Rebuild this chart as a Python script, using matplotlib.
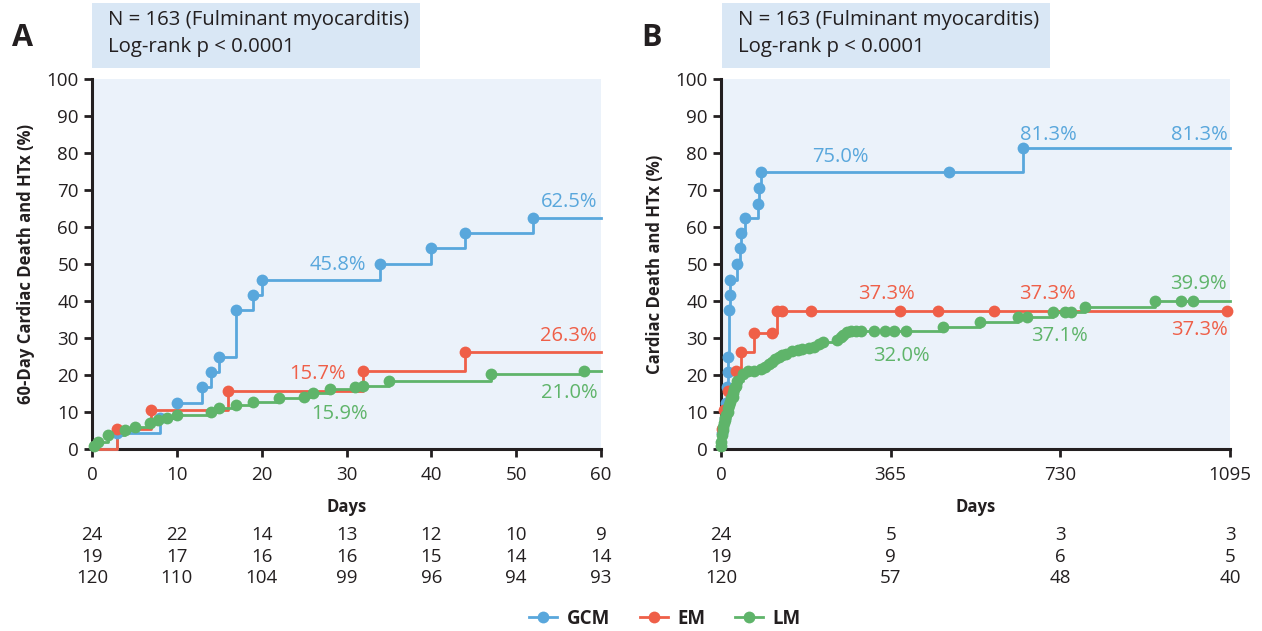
import matplotlib
matplotlib.use("Agg")
import matplotlib.pyplot as plt
from matplotlib.transforms import blended_transform_factory
from matplotlib.lines import Line2D

plt.rcParams['font.family'] = ['Open Sans', 'DejaVu Sans']

# ---------------- data ----------------
groups = ["GCM", "EM", "LM"]
colors = {"GCM": "#59a7dc", "EM": "#ef5f48", "LM": "#5fb46a"}

# Panel A (60 days): event / marker times (days) and cumulative incidence (%)
a_gcm_days = [3, 8, 10, 13, 14, 15, 17, 19, 20, 34, 40, 44, 52]
a_gcm_vals = [4.2, 8.3, 12.5, 16.7, 20.8, 25.0, 37.5, 41.7, 45.8, 50.0, 54.2, 58.3, 62.5]
a_em_days = [3, 7, 16, 32, 44]
a_em_vals = [5.3, 10.5, 15.7, 21.1, 26.3]
a_lm_days = [0.2, 0.7, 1.9, 3.9, 5.1, 6.8, 7.8, 8.8, 10, 14, 15, 17, 19, 22, 25, 26, 28, 31, 32, 35, 47, 58]
a_lm_vals = [0.8, 2.0, 3.8, 5.1, 6.0, 6.9, 7.8, 8.3, 9.2, 9.9, 11.2, 12.0, 12.8, 13.7, 14.1, 15.2, 16.1, 16.7, 17.1, 18.5, 20.3, 21.0]

# Panel B (1095 days)
b_gcm_days = [3, 8, 10, 13, 14, 15, 17, 19, 20, 34, 40, 44, 52, 80, 81, 86, 490, 649]
b_gcm_vals = [4.2, 8.3, 12.5, 16.7, 20.8, 25.0, 37.5, 41.7, 45.8, 50.0, 54.2, 58.3, 62.5, 66.3, 70.6, 75.0, 75.0, 81.3]
b_em_days = [3, 7, 16, 32, 44, 70, 110, 121, 131, 193, 386, 467, 587, 1088]
b_em_vals = [5.3, 10.5, 15.7, 21.1, 26.3, 31.3, 31.3, 37.3, 37.3, 37.3, 37.3, 37.3, 37.3, 37.3]
b_lm_days = [0.2, 0.7, 1.9, 3.9, 5.1, 6.8, 7.8, 8.8, 10, 14, 15, 17, 19, 22, 25, 26, 28, 31, 32, 35, 47, 58,
             70, 85, 95, 103, 110, 117, 124, 131, 140, 153, 165, 175, 190, 200, 210, 220, 250, 258, 263, 270,
             280, 290, 302, 330, 352, 373, 398, 477, 558, 640, 658, 715, 740, 754, 783, 934, 990, 1016]
b_lm_vals = [0.8, 2.0, 3.8, 5.1, 6.0, 6.9, 7.8, 8.3, 9.2, 9.9, 11.2, 12.0, 12.8, 13.7, 14.1, 15.2, 16.1, 16.7, 17.1, 18.5, 20.3, 21.0,
             21.2, 21.6, 22.2, 22.9, 23.6, 24.3, 25.0, 25.4, 25.8, 26.5, 26.8, 27.0, 27.2, 27.7, 28.3, 28.8, 29.5, 30.3, 30.9, 31.5,
             31.9, 32.0, 32.0, 32.0, 32.0, 32.0, 32.0, 33.1, 34.3, 35.6, 35.6, 37.1, 37.1, 37.1, 38.5, 39.9, 39.9, 39.9]

a_ticks = [0, 10, 20, 30, 40, 50, 60]
b_ticks = [0, 365, 730, 1095]
a_risk = {"GCM": [24, 22, 14, 13, 12, 10, 9],
          "EM": [19, 17, 16, 16, 15, 14, 14],
          "LM": [120, 110, 104, 99, 96, 94, 93]}
b_risk = {"GCM": [24, 5, 3, 3],
          "EM": [19, 9, 6, 5],
          "LM": [120, 57, 48, 40]}

# annotations: (text, x, y, color-group, ha)
a_labels = [("62.5%", 59.6, 66.8, "GCM", "right"), ("45.8%", 29.0, 49.8, "GCM", "center"),
            ("26.3%", 59.5, 30.5, "EM", "right"), ("15.7%", 26.6, 20.4, "EM", "center"),
            ("15.9%", 29.2, 9.5, "LM", "center"), ("21.0%", 59.6, 15.2, "LM", "right")]
b_labels = [("75.0%", 256, 78.8, "GCM", "center"), ("81.3%", 643, 84.9, "GCM", "left"),
            ("81.3%", 1090, 84.9, "GCM", "right"), ("37.3%", 355, 41.9, "EM", "center"),
            ("37.3%", 702, 41.9, "EM", "center"), ("37.3%", 1090, 32.2, "EM", "right"),
            ("32.0%", 387, 25.2, "LM", "center"), ("37.1%", 729, 30.6, "LM", "center"),
            ("39.9%", 1087, 44.6, "LM", "right")]

# ---------------- figure ----------------
W, H = 1262, 631
fig = plt.figure(figsize=(W / 100, H / 100), dpi=100)
bg = "#ebf2fa"
box = "#d9e7f5"
ink = "#231f20"

def px_axes(x0, x1, y_top, y_bot):
    return [x0 / W, 1 - y_bot / H, (x1 - x0) / W, (y_bot - y_top) / H]

axA = fig.add_axes(px_axes(92, 601, 79, 449))
axB = fig.add_axes(px_axes(721, 1230, 79, 449))

def draw_panel(ax, series, xmax, ticks, risk, labels, ylabel, letter, letter_x, box_x):
    ax.set_facecolor(bg)
    for g, (d, v) in zip(groups, series):
        xs = [0] + list(d) + [xmax]
        ys = [0] + list(v) + [v[-1]]
        ax.plot(xs, ys, drawstyle="steps-post", color=colors[g], lw=2.0, clip_on=False, zorder=3)
        ax.plot(d, v, "o", color=colors[g], ms=8.5, mec="none", clip_on=False, zorder=4)
    ax.set_xlim(0, xmax)
    ax.set_ylim(0, 100)
    ax.set_yticks(range(0, 101, 10))
    ax.set_xticks(ticks)
    for s in ["top", "right"]:
        ax.spines[s].set_visible(False)
    for s in ["left", "bottom"]:
        ax.spines[s].set_linewidth(2.2)
        ax.spines[s].set_color(ink)
    ax.tick_params(axis="both", direction="out", length=6, width=2, color=ink,
                   labelsize=13.5, labelcolor=ink)
    ax.tick_params(axis="x", pad=6)
    ax.set_xlabel("Days", fontsize=12, fontweight="bold", color=ink, labelpad=10)
    ax.set_ylabel(ylabel, fontsize=12, fontweight="bold", color=ink, labelpad=8)
    for t, x, y, g, ha in labels:
        ax.text(x, y, t, color=colors[g], fontsize=14.5, ha=ha, va="center", zorder=5)
    tr = blended_transform_factory(ax.transData, fig.transFigure)
    for i, g in enumerate(groups):
        yy = 1 - (535 + 21.5 * i) / H
        for x, n in zip(ticks, risk[g]):
            fig.text(x, yy, str(n), transform=tr, ha="center", va="center", fontsize=13.5, color=ink)
    # header box
    fig.patches.append(plt.Rectangle((box_x / W, 1 - 68 / H), 328 / W, 65 / H,
                                     transform=fig.transFigure, facecolor=box, edgecolor="none"))
    fig.text((box_x + 16) / W, 1 - 20 / H, "N = 163 (Fulminant myocarditis)", fontsize=14.7,
             va="center", color=ink)
    fig.text((box_x + 16) / W, 1 - 47 / H, "Log-rank p < 0.0001", fontsize=14.7,
             va="center", color=ink)
    fig.text(letter_x / W, 1 - 38 / H, letter, fontsize=22, fontweight="bold", va="center",
             ha="center", color=ink)

draw_panel(axA, [(a_gcm_days, a_gcm_vals), (a_em_days, a_em_vals), (a_lm_days, a_lm_vals)],
           60, a_ticks, a_risk, a_labels, "60-Day Cardiac Death and HTx (%)", "A", 22, 92)
draw_panel(axB, [(b_gcm_days, b_gcm_vals), (b_em_days, b_em_vals), (b_lm_days, b_lm_vals)],
           1095, b_ticks, b_risk, b_labels, "Cardiac Death and HTx (%)", "B", 651, 722)

handles = [Line2D([0], [0], color=colors[g], lw=2.0, marker="o", ms=8.5, mec="none") for g in groups]
leg = fig.legend(handles, groups, loc="center", bbox_to_anchor=(665 / W, 1 - 619 / H), ncol=3,
                 frameon=False, fontsize=13.5, handlelength=1.5, columnspacing=1.6, handletextpad=0.5)
for t in leg.get_texts():
    t.set_fontweight("bold")
    t.set_color(ink)

fig.savefig("out.png", dpi=100)
